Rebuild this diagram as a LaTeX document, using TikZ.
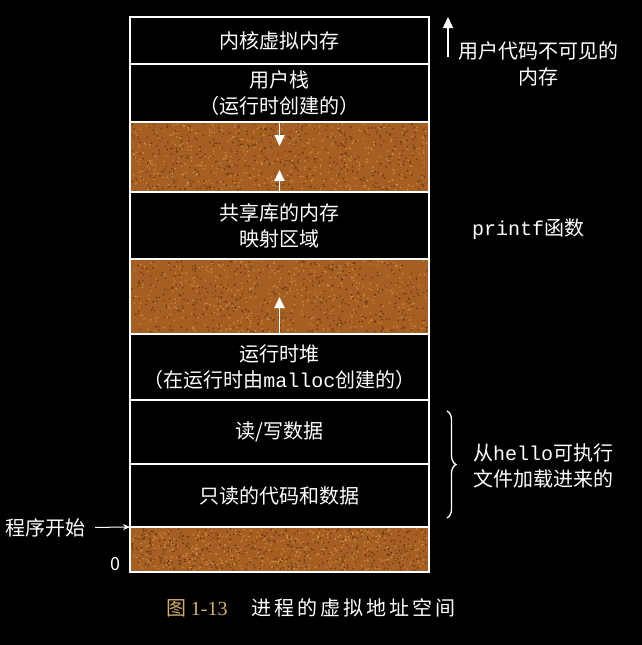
\documentclass[tikz,border=0pt]{standalone}
\usepackage{fontspec}
\setmainfont{Noto Sans CJK SC}
\newfontfamily\monofont{Liberation Mono}
\newfontfamily\capserif{Liberation Serif}
\usetikzlibrary{arrows.meta,positioning,decorations.pathreplacing}

\definecolor{rust}{RGB}{165,95,35}
\definecolor{rustdark}{RGB}{110,52,18}
\definecolor{rustlight}{RGB}{212,148,68}
\definecolor{gold}{RGB}{212,176,98}

\begin{document}
\begin{tikzpicture}[
  x=1pt, y=1pt,
  node distance=0pt,
  seg/.style={draw=white, line width=1.4pt, fill=black, text=white, minimum width=299pt,
    outer sep=0pt, align=center, font=\fontsize{20}{26}\selectfont},
  gap/.style={seg, fill=rust},
  lbl/.style={text=white, align=center, font=\fontsize{20}{26}\selectfont},
  arrow/.style={-{Triangle[length=11pt,width=10pt]}, white, line width=1.8pt},
  ptr/.style={-{Stealth[length=7pt,width=6pt]}, white, line width=1pt}
]
\fill[black] (0,0) rectangle (642,-645);
\useasboundingbox (0,0) rectangle (642,-645);

% the address space, top to bottom
\node[seg, minimum height=47pt] (kernel) at (279.5,-40.5) {内核虚拟内存};
\node[seg, minimum height=58pt, below=of kernel] (stack) {用户栈\\（运行时创建的）};
\node[gap, minimum height=70pt, below=of stack] (gapA) {};
\node[seg, minimum height=67pt, below=of gapA] (shlib) {共享库的内存\\映射区域};
\node[gap, minimum height=75pt, below=of shlib] (gapB) {};
\node[seg, minimum height=66pt, below=of gapB] (heap) {运行时堆\\（在运行时由{\monofont malloc}创建的）};
\node[seg, minimum height=64pt, below=of heap] (rwdata) {读/写数据};
\node[seg, minimum height=63pt, below=of rwdata] (rocode) {只读的代码和数据};
\node[gap, minimum height=45pt, below=of rocode] (gapC) {};

% speckles in the unused gaps
\pgfmathsetseed{7}
\foreach \g/\h in {gapA/70,gapB/75,gapC/45} {
  \foreach \i in {1,...,450} {
    \fill[rustdark] (\g.south west) ++({2+rnd*295},{2+rnd*(\h-4)}) circle (0.9);
    \fill[rustlight] (\g.south west) ++({2+rnd*295},{2+rnd*(\h-4)}) circle (0.8);
  }
}

% growth arrows
\draw[arrow] (stack.south) -- ++(0,-24);
\draw[arrow] (shlib.north) -- ++(0,22);
\draw[arrow] (heap.north) -- ++(0,37);

% labels on the right
\node[lbl] (hidden) at (538,-64) {用户代码不可见的\\内存};
\coordinate (hidtail) at (448,-57);
\draw[arrow, line width=1.5pt] (hidtail) -- (hidtail |- kernel.north);
\node[lbl] (printf) at (528,-229) {{\monofont printf}函数};
\coordinate (bracetop) at (447,-411);
\coordinate (bracebot) at (447,-518);
\draw[white, line width=1.3pt, decorate, decoration={brace, amplitude=9pt}] (bracetop) -- (bracebot);
\node[lbl] (loaded) at (543,-466) {从{\monofont hello}可执行\\文件加载进来的};

% labels on the left
\node[lbl, anchor=west] (start) at (2,-528) {程序开始};
\draw[ptr, shorten <=6pt] (start) -- (gapC.north west);
\node[lbl, font=\fontsize{18}{20}\selectfont] (zero) at (115,-564) {0};

% caption
\node[lbl] (caption) at (311,-608) {\textcolor{gold}{图 {\capserif 1-13}}\hspace{24pt}{\addfontfeature{LetterSpace=15}进程的虚拟地址空间}};
\end{tikzpicture}
\end{document}
